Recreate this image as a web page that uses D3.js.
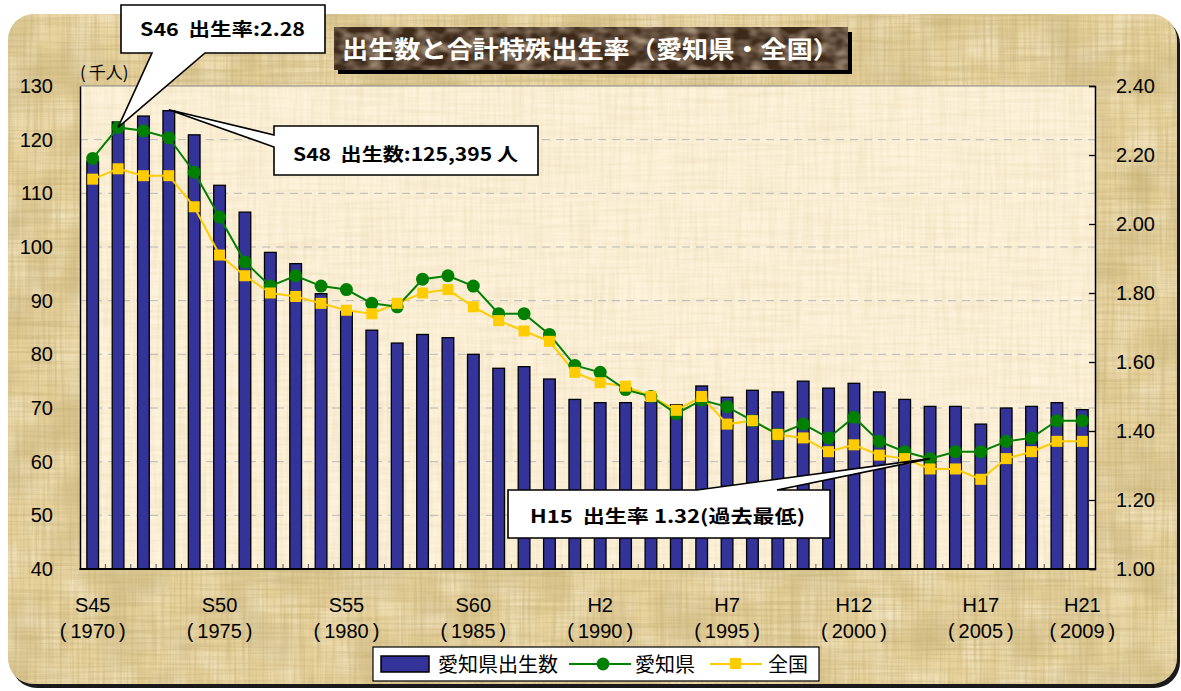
<!DOCTYPE html>
<html><head><meta charset="utf-8">
<script src="https://cdn.jsdelivr.net/npm/d3@7/dist/d3.min.js"></script>
<style>
html,body{margin:0;padding:0;background:#fff;}
svg{display:block;}
</style></head>
<body>
<script>
// ---- data ----
const years = d3.range(1970, 2010);
const births = [116.0,123.3,124.4,125.4,120.9,111.5,106.5,99.0,96.9,91.3,
  88.0,84.5,82.1,83.7,83.1,80.0,77.4,77.7,75.4,71.6,
  71.0,71.0,71.2,70.6,74.1,72.0,73.3,73.0,75.0,73.7,
  74.6,73.0,71.6,70.3,70.3,67.0,70.0,70.3,71.0,69.7];
const tfrAichi = [2.19,2.28,2.27,2.25,2.15,2.02,1.89,1.82,1.85,1.82,
  1.81,1.77,1.76,1.84,1.85,1.82,1.74,1.74,1.68,1.59,
  1.57,1.52,1.50,1.45,1.49,1.47,1.43,1.39,1.42,1.38,
  1.44,1.37,1.34,1.32,1.34,1.34,1.37,1.38,1.43,1.43];
const tfrJapan = [2.13,2.16,2.14,2.14,2.05,1.91,1.85,1.80,1.79,1.77,
  1.75,1.74,1.77,1.80,1.81,1.76,1.72,1.69,1.66,1.57,
  1.54,1.53,1.50,1.46,1.50,1.42,1.43,1.39,1.38,1.34,
  1.36,1.33,1.32,1.29,1.29,1.26,1.32,1.34,1.37,1.37];
const tickYears = [1970,1975,1980,1985,1990,1995,2000,2005,2009];
const tickEra = ["S45","S50","S55","S60","H2","H7","H12","H17","H21"];
const leftTicks = [40,50,60,70,80,90,100,110,120,130];
const rightTicks = [1.00,1.20,1.40,1.60,1.80,2.00,2.20,2.40];
const title = "出生数と合計特殊出生率（愛知県・全国）";
const legendLabels = ["愛知県出生数","愛知県","全国"];
const notes = [
  {text:"S46  出生率:2.28", year:1971, series:"aichi", value:2.28},
  {text:"S48  出生数:125,395 人", year:1973, series:"births", value:125.395},
  {text:"H15  出生率 1.32(過去最低)", year:2003, series:"aichi", value:1.32}
];

// ---- layout ----
const W = 1181, H = 691;
const L = 80, R = 1095, T = 86, B = 569;
const JP = "'Noto Sans CJK JP','Noto Sans',sans-serif";
const NUM = "'Liberation Sans Narrow','Liberation Sans',Arial,sans-serif";

const svg = d3.select("body").append("svg").attr("width", W).attr("height", H);
const defs = svg.append("defs");

function grain(id, freq, seed, rgb, k, c){
  const f = defs.append("filter").attr("id", id).attr("x",0).attr("y",0).attr("width","100%").attr("height","100%");
  f.append("feTurbulence").attr("type","fractalNoise").attr("baseFrequency",freq).attr("numOctaves",2).attr("seed",seed);
  f.append("feColorMatrix").attr("type","matrix")
   .attr("values", `0 0 0 0 ${rgb[0]}  0 0 0 0 ${rgb[1]}  0 0 0 0 ${rgb[2]}  ${k} 0 0 0 ${c}`);
}
grain("gV", "0.35 0.012", 3, [0.55,0.42,0.18], 1.0, -0.38);
grain("gH", "0.012 0.35", 7, [0.50,0.38,0.15], 0.9, -0.36);
grain("gB", "0.02 0.02", 11, [0.45,0.33,0.12], 0.8, -0.32);
grain("gL", "0.03 0.03", 13, [1.0,0.97,0.85], 0.9, -0.35);
grain("pV", "0.3 0.015", 5, [0.78,0.66,0.42], 0.7, -0.27);
grain("pH", "0.015 0.3", 9, [0.78,0.66,0.42], 0.7, -0.27);
grain("tN", "0.06 0.09", 4, [0.55,0.42,0.30], 1.6, -0.55);

defs.append("clipPath").attr("id","frameClip").append("rect")
  .attr("x",8).attr("y",14).attr("width",1169).attr("height",670).attr("rx",26);
defs.append("clipPath").attr("id","plotClip").append("rect")
  .attr("x",L).attr("y",T).attr("width",R-L).attr("height",B-T);

// frame
svg.append("rect").attr("x",11).attr("y",18).attr("width",1169).attr("height",670).attr("rx",26).attr("fill","#1a1a1a");
svg.append("rect").attr("x",8).attr("y",14).attr("width",1169).attr("height",670).attr("rx",26).attr("fill","#e9d49f");
const fr = svg.append("g").attr("clip-path","url(#frameClip)");
fr.append("rect").attr("x",8).attr("y",14).attr("width",1169).attr("height",670).attr("filter","url(#gL)");
fr.append("rect").attr("x",8).attr("y",14).attr("width",1169).attr("height",670).attr("filter","url(#gB)");
fr.append("rect").attr("x",8).attr("y",14).attr("width",1169).attr("height",670).attr("filter","url(#gV)");
fr.append("rect").attr("x",8).attr("y",14).attr("width",1169).attr("height",670).attr("filter","url(#gH)");

// plot background
svg.append("rect").attr("x",L).attr("y",T).attr("width",R-L).attr("height",B-T).attr("fill","#fdf2da");
const pb = svg.append("g").attr("clip-path","url(#plotClip)");
pb.append("rect").attr("x",L).attr("y",T).attr("width",R-L).attr("height",B-T).attr("filter","url(#pV)");
pb.append("rect").attr("x",L).attr("y",T).attr("width",R-L).attr("height",B-T).attr("filter","url(#pH)");

// scales
const x = d3.scaleBand().domain(years).range([L,R]).paddingInner(0.54).paddingOuter(0.27);
const yL = d3.scaleLinear().domain([40,130]).range([B,T]);
const yR = d3.scaleLinear().domain([1.0,2.4]).range([B,T]);
const cx = d => x(d) + x.bandwidth()/2;
const step = x.step();

// gridlines
svg.append("g").selectAll("line").data(leftTicks.filter(v => v>40 && v<130)).join("line")
  .attr("x1",L).attr("x2",R).attr("y1",d=>yL(d)).attr("y2",d=>yL(d))
  .attr("stroke","#b8b8b8").attr("stroke-width",1).attr("stroke-dasharray","8,6");
svg.append("line").attr("x1",L).attr("x2",R).attr("y1",T).attr("y2",T).attr("stroke","#8a8a8a").attr("stroke-width",1.2);

// bars
svg.append("g").selectAll("rect").data(years).join("rect")
  .attr("x", d=>x(d)).attr("width", x.bandwidth())
  .attr("y", (d,i)=>yL(births[i])).attr("height",(d,i)=>yL(40)-yL(births[i]))
  .attr("fill","#333399").attr("stroke","#000").attr("stroke-width",1.3);

// x category ticks
svg.append("g").selectAll("line").data(d3.range(1, years.length)).join("line")
  .attr("x1", i=>L+ i*step).attr("x2", i=>L+i*step).attr("y1",B).attr("y2",B-5)
  .attr("stroke","#555").attr("stroke-width",1);

// axes
const axL = d3.axisLeft(yL).tickValues(leftTicks).tickSize(0).tickPadding(27);
const gL = svg.append("g").attr("transform",`translate(${L},0)`).call(axL);
gL.select(".domain").attr("stroke","#000").attr("stroke-width",1.5);
gL.selectAll("text").attr("font-family",NUM).attr("font-size",20).attr("fill","#000");

const axR = d3.axisRight(yR).tickValues(rightTicks).tickFormat(d3.format(".2f")).tickSize(-6).tickPadding(21);
const gR = svg.append("g").attr("transform",`translate(${R},0)`).call(axR);
gR.select(".domain").attr("stroke","#000").attr("stroke-width",1.5);
gR.selectAll(".tick line").attr("stroke","#000").attr("stroke-width",1.3);
gR.selectAll("text").attr("font-family",NUM).attr("font-size",20).attr("fill","#000");

svg.append("line").attr("x1",L-0.5).attr("x2",R+0.5).attr("y1",B).attr("y2",B).attr("stroke","#000").attr("stroke-width",1.8);

// x labels
const xl = svg.append("g").selectAll("g").data(tickYears).join("g");
xl.append("text").attr("x",d=>cx(d)).attr("y",612).attr("text-anchor","middle")
  .attr("font-family",NUM).attr("font-size",20).text((d,i)=>tickEra[i]);
xl.append("text").attr("x",d=>cx(d)).attr("y",638).attr("text-anchor","middle")
  .attr("font-family",NUM).attr("font-size",20)
  .call(t=>{
    t.append("tspan").text("(");
    t.append("tspan").attr("dx",4).text(d=>d);
    t.append("tspan").attr("dx",4).text(")");
  });

// unit label
svg.append("text").attr("x",L).attr("y",79).attr("font-family",JP).attr("font-size",17)
  .call(t=>{
    t.append("tspan").text("(");
    t.append("tspan").attr("dx",3).text("千人");
    t.append("tspan").text(")");
  });

// lines
const lineA = d3.line().x((d,i)=>cx(years[i])).y(d=>yR(d));
svg.append("path").attr("d",lineA(tfrJapan)).attr("fill","none").attr("stroke","#ffcc00").attr("stroke-width",2);
svg.append("path").attr("d",lineA(tfrAichi)).attr("fill","none").attr("stroke","#008000").attr("stroke-width",2);
svg.append("g").selectAll("circle").data(tfrAichi).join("circle")
  .attr("cx",(d,i)=>cx(years[i])).attr("cy",d=>yR(d)).attr("r",6.5).attr("fill","#008000");
svg.append("g").selectAll("rect").data(tfrJapan).join("rect")
  .attr("x",(d,i)=>cx(years[i])-5.5).attr("y",d=>yR(d)-5.5).attr("width",11).attr("height",11).attr("fill","#ffcc00");

// title
svg.append("rect").attr("x",338).attr("y",32).attr("width",514).attr("height",42).attr("fill","#000");
svg.append("rect").attr("x",334).attr("y",27).attr("width",514).attr("height",43).attr("fill","#3d2a1a");
svg.append("rect").attr("x",334).attr("y",27).attr("width",514).attr("height",43).attr("filter","url(#tN)");
svg.append("text").attr("x",342).attr("y",58).attr("font-family",JP).attr("font-weight","bold")
  .attr("font-size",24).attr("fill","#fff").attr("textLength",497).attr("lengthAdjust","spacingAndGlyphs").text(title);

// callouts
function pt(n){
  if(n.series==="births") return [cx(n.year), yL(n.value)];
  return [cx(n.year), yR(n.value)];
}
const c1 = pt(notes[0]), c2 = pt(notes[1]), c3 = pt(notes[2]);
const co = svg.append("g").attr("fill","#fff").attr("stroke","#000").attr("stroke-width",1.6).attr("stroke-linejoin","miter");
co.append("path").attr("d",`M121,5H325V53H205L${c1[0]},${c1[1]}L152,53H121Z`);
co.append("path").attr("d",`M274,126H538V175H274V147L${c2[0]},${c2[1]-1}L274,135Z`);
co.append("path").attr("d",`M508,490H697L${c3[0]},${c3[1]}L777,490H830V538H508Z`);
const nb = s => s.replace(/ /g, "\u00a0");
const ct = svg.append("g").attr("font-family",JP).attr("font-weight","bold").attr("font-size",18).attr("fill","#000");
ct.append("text").attr("x",140).attr("y",36).attr("textLength",165).attr("lengthAdjust","spacingAndGlyphs").text(nb(notes[0].text));
ct.append("text").attr("x",293).attr("y",161).attr("textLength",225).attr("lengthAdjust","spacingAndGlyphs").text(nb(notes[1].text));
ct.append("text").attr("x",530).attr("y",523).attr("textLength",275).attr("lengthAdjust","spacingAndGlyphs").text(nb(notes[2].text));

// legend
const lg = svg.append("g");
lg.append("rect").attr("x",373).attr("y",647).attr("width",446).attr("height",34).attr("fill","#fff").attr("stroke","#000").attr("stroke-width",1.2);
lg.append("rect").attr("x",381).attr("y",656).attr("width",48).attr("height",16).attr("fill","#333399").attr("stroke","#000").attr("stroke-width",1.5);
lg.append("text").attr("x",438).attr("y",672).attr("font-family",JP).attr("font-size",20).text(legendLabels[0]);
lg.append("line").attr("x1",569).attr("x2",631).attr("y1",664).attr("y2",664).attr("stroke","#008000").attr("stroke-width",2);
lg.append("circle").attr("cx",603).attr("cy",664).attr("r",6.5).attr("fill","#008000");
lg.append("text").attr("x",635).attr("y",672).attr("font-family",JP).attr("font-size",20).text(legendLabels[1]);
lg.append("line").attr("x1",710).attr("x2",762).attr("y1",664).attr("y2",664).attr("stroke","#ffcc00").attr("stroke-width",2);
lg.append("rect").attr("x",730).attr("y",658).attr("width",11).attr("height",11).attr("fill","#ffcc00");
lg.append("text").attr("x",768).attr("y",672).attr("font-family",JP).attr("font-size",20).text(legendLabels[2]);
</script>
</body></html>
